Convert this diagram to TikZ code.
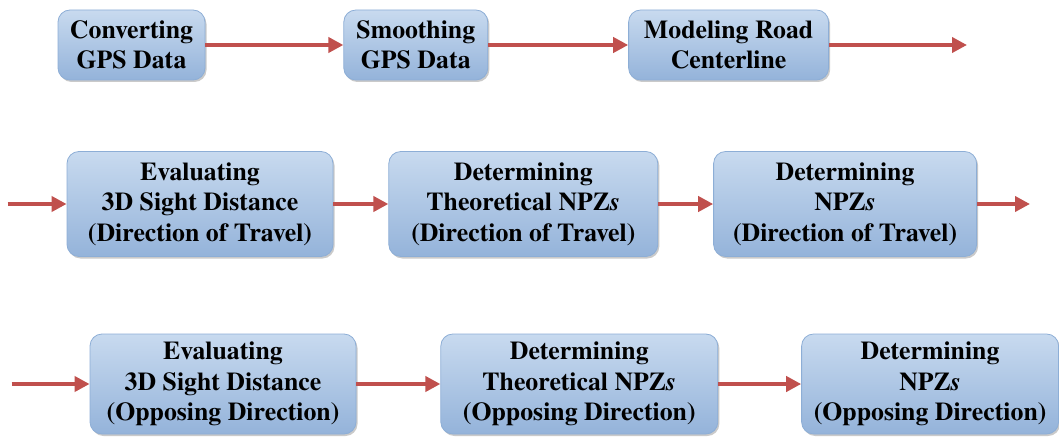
\documentclass[tikz,border=0pt]{standalone}
\usepackage{fontspec}
\setmainfont{texgyretermes}[Extension=.otf, UprightFont=*-regular, BoldFont=*-bold, ItalicFont=*-italic, BoldItalicFont=*-bolditalic]
\usetikzlibrary{positioning,arrows.meta,shadows}
\definecolor{boxtop}{HTML}{C8DAEF}
\definecolor{boxmid}{HTML}{E1EAF5}
\definecolor{boxbot}{HTML}{94B3DA}
\definecolor{boxline}{HTML}{8DAED6}
\definecolor{flowred}{HTML}{C0504D}
\tikzset{
  stage/.style={draw=boxline, line width=0.8pt, rounded corners=12pt,
    top color=boxtop, middle color=boxmid, bottom color=boxbot,
    drop shadow={shadow xshift=1.5pt, shadow yshift=-2pt, opacity=0.35, fill=black!60},
    align=center, inner sep=0pt, font=\bfseries\fontsize{25.8}{30.5}\selectfont},
  flow/.style={draw=flowred, line width=3.8pt, -{Triangle[length=15pt,width=15pt]}}
}
\begin{document}
\begin{tikzpicture}[x=1pt, y=1pt]
      \useasboundingbox (0,0) rectangle (1059,440);
      % first row
      \node[stage, minimum width=147pt, minimum height=70pt] (conv) at (131.5,395) {Converting\\GPS Data};
      \node[stage, minimum width=144pt, minimum height=70pt, right=138pt of conv] (smooth) {Smoothing\\GPS Data};
      \node[stage, minimum width=200pt, minimum height=70pt, right=140pt of smooth] (model) {Modeling Road\\Centerline};
      \coordinate[right=138pt of model] (out1);
      % direction of travel
      \node[stage, minimum width=266pt, minimum height=105pt] (evaltr) at (200,236) {Evaluating\\3D Sight Distance\\(Direction of Travel)};
      \node[stage, minimum width=269pt, minimum height=105pt, right=55pt of evaltr] (theotr) {Determining\\Theoretical NPZ\textit{s}\\(Direction of Travel)};
      \node[stage, minimum width=263pt, minimum height=105pt, right=55pt of theotr] (npztr) {Determining\\NPZ\textit{s}\\(Direction of Travel)};
      \coordinate[left=59pt of evaltr] (in2);
      \coordinate[right=53pt of npztr] (out2);
      % opposing direction
      \node[stage, minimum width=266pt, minimum height=100pt] (evalop) at (223,56) {Evaluating\\3D Sight Distance\\(Opposing Direction)};
      \node[stage, minimum width=277pt, minimum height=100pt, right=84pt of evalop] (theoop) {Determining\\Theoretical NPZ\textit{s}\\(Opposing Direction)};
      \node[stage, minimum width=257pt, minimum height=100pt, right=83pt of theoop] (npzop) {Determining\\NPZ\textit{s}\\(Opposing Direction)};
      \coordinate[left=78pt of evalop] (in3);
      \draw[flow] (conv) -- (smooth);
      \draw[flow] (smooth) -- (model);
      \draw[flow] (model) -- (out1);
      \draw[flow] (in2) -- (evaltr);
      \draw[flow] (evaltr) -- (theotr);
      \draw[flow] (theotr) -- (npztr);
      \draw[flow] (npztr) -- (out2);
      \draw[flow] (in3) -- (evalop);
      \draw[flow] (evalop) -- (theoop);
      \draw[flow] (theoop) -- (npzop);
\end{tikzpicture}
\end{document}
